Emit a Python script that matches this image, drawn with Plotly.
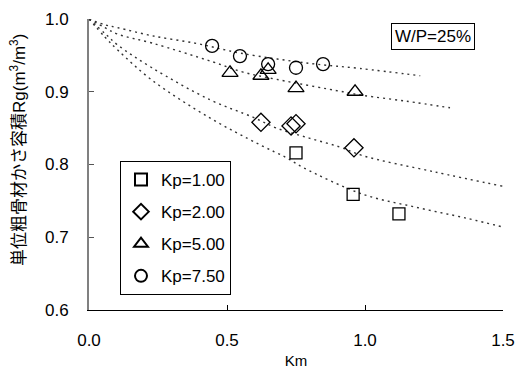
import plotly.graph_objects as go

# Measured points
km_sq = [0.75, 0.957, 1.123]
rg_sq = [0.816, 0.759, 0.732]
km_di = [0.623, 0.732, 0.75, 0.96]
rg_di = [0.858, 0.853, 0.856, 0.823]
km_tr = [0.511, 0.623, 0.649, 0.75, 0.964]
rg_tr = [0.926, 0.922, 0.930, 0.905, 0.900]
km_ci = [0.446, 0.547, 0.649, 0.75, 0.848]
rg_ci = [0.963, 0.949, 0.938, 0.933, 0.938]

# Fitted curves
fit_sq_x = [0, 0.058, 0.105, 0.228, 0.438, 0.62, 0.717, 0.775, 0.993, 1.188, 1.37, 1.5]
fit_sq_y = [1.0, 0.975, 0.957, 0.916, 0.864, 0.827, 0.809, 0.796, 0.759, 0.741, 0.726, 0.714]
fit_di_x = [0, 0.058, 0.105, 0.228, 0.438, 0.594, 0.68, 0.80, 0.909, 0.993, 1.25, 1.5]
fit_di_y = [1.0, 0.980, 0.964, 0.933, 0.889, 0.865, 0.850, 0.836, 0.824, 0.812, 0.790, 0.770]
fit_tr_x = [0, 0.058, 0.105, 0.228, 0.449, 0.558, 0.68, 0.92, 0.993, 1.15, 1.308]
fit_tr_y = [1.0, 0.988, 0.979, 0.967, 0.941, 0.927, 0.917, 0.900, 0.895, 0.887, 0.878]
fit_ci_x = [0, 0.058, 0.105, 0.228, 0.395, 0.55, 0.80, 0.982, 1.2]
fit_ci_y = [1.0, 0.992, 0.988, 0.977, 0.966, 0.953, 0.939, 0.932, 0.922]

names = ["Kp=1.00", "Kp=2.00", "Kp=5.00", "Kp=7.50"]
x_ticks = [0, 0.5, 1.0, 1.5]
y_ticks = [0.6, 0.7, 0.8, 0.9, 1.0]

FONT = "Liberation Sans, Arial, Noto Sans CJK JP, sans-serif"

L, R, T, B = 89, 13, 19, 59
W, H = 516, 369
PW, PH = W - L - R, H - T - B

fig = go.Figure()
line_style = dict(color="#333333", width=1.4, dash="2px,4px")
for fx, fy in [(fit_sq_x, fit_sq_y), (fit_di_x, fit_di_y), (fit_tr_x, fit_tr_y), (fit_ci_x, fit_ci_y)]:
    fig.add_trace(go.Scatter(x=fx, y=fy, mode="lines", line=dict(shape="spline", **line_style),
                             showlegend=False, hoverinfo="skip"))

series = [
    (km_sq, rg_sq, "square-open", 12),
    (km_di, rg_di, "diamond-open", 14),
    (km_tr, rg_tr, "triangle-up-open", 14),
    (km_ci, rg_ci, "circle-open", 13),
]
for i, (x, y, sym, sz) in enumerate(series):
    fig.add_trace(go.Scatter(x=x, y=y, mode="markers", name=names[i], legendgroup=f"g{i}",
                             marker=dict(symbol=sym, size=sz, color="black", line=dict(width=1.3, color="black"))))

fig.update_layout(
    width=W, height=H,
    margin=dict(l=L, r=R, t=T, b=B, autoexpand=False),
    paper_bgcolor="white", plot_bgcolor="white",
    font=dict(family=FONT, size=17, color="black"),
    legend=dict(x=(120 - L) / PW, y=(H - B - 161) / PH, xanchor="left", yanchor="top",
                bordercolor="black", borderwidth=1, bgcolor="white",
                font=dict(size=17), traceorder="grouped", tracegroupgap=7,
                itemsizing="constant"),
    xaxis=dict(range=[0, 1.5], tickvals=x_ticks, tickformat=".1f", ticks="inside", ticklen=5,
               tickcolor="black", showline=True, linecolor="black", linewidth=1.3,
               showgrid=False, zeroline=False, ticklabelstandoff=14, automargin=False,
               title=dict(text="Km", font=dict(size=15), standoff=10)),
    yaxis=dict(range=[0.6, 1.0], tickvals=y_ticks, tickformat=".1f", ticks="inside", ticklen=5,
               tickcolor="#555555", showline=True, linecolor="#808080", linewidth=2,
               showgrid=False, zeroline=False, ticklabelstandoff=15, automargin=False),
    annotations=[
        dict(text="W/P=25%", x=(433 - L) / PW, y=(H - B - 36) / PH, xref="paper", yref="paper",
             xanchor="center", yanchor="middle", showarrow=False,
             font=dict(size=17), bordercolor="black", borderwidth=1, borderpad=3, bgcolor="white"),
        dict(text="単位粗骨材かさ容積Rg(m<sup>3</sup>/m<sup>3</sup>)", textangle=-90,
             x=(18 - L) / PW, y=(H - B - 150) / PH, xref="paper", yref="paper",
             xanchor="center", yanchor="middle", showarrow=False, font=dict(size=17)),
    ],
)

fig.write_html("out.html", config={"displayModeBar": False},
               post_script="document.body.style.margin='0';document.body.style.overflow='hidden';")
